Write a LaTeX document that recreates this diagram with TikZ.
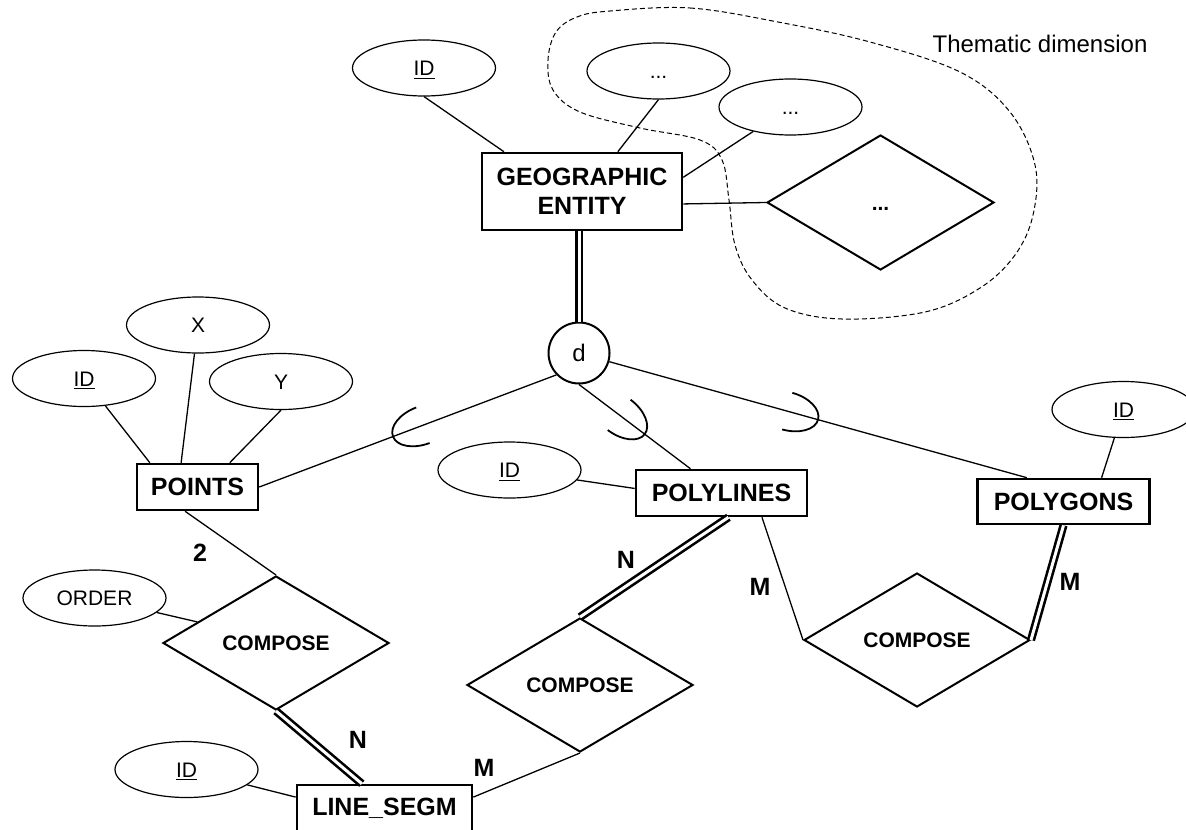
\documentclass[tikz,border=0pt]{standalone}
\usepackage{fontspec}
\setmainfont{Liberation Sans}
\usetikzlibrary{shapes.geometric}

\begin{document}
\begin{tikzpicture}[x=0.5pt,y=-0.5pt,
	entity/.style={draw,line width=1.3pt,inner sep=0pt,align=center,font=\bfseries\fontsize{12.5}{14.5}\selectfont},
	attrib/.style={draw,ellipse,line width=0.6pt,minimum width=71.5pt,minimum height=28pt,inner sep=0pt,text height=7.5pt,text depth=0pt,font=\fontsize{10.5}{12}\selectfont},
	relship/.style={draw,diamond,line width=1pt,minimum width=113pt,minimum height=67pt,inner sep=0pt,font=\bfseries\fontsize{10.5}{12}\selectfont},
	card/.style={font=\bfseries\fontsize{12.5}{14}\selectfont},
	dbl/.style={double,line width=1.3pt,double distance=1.5pt},
	link/.style={line width=0.65pt},
	subset/.pic={\draw[line width=0.9pt] (16pt,9.5pt) arc[start angle=90,end angle=270,x radius=16pt,y radius=9.5pt];}]
			\useasboundingbox (0,0) rectangle (1186,829);
			
			% thematic dimension
			
			\draw[dash pattern=on 2.5pt off 1.5pt,line width=0.5pt] plot[smooth cycle,tension=0.6] coordinates {
				(610,11) (690,8) (778,22) (870,42) (960,72) (1010,112) (1035,165) (1033,215) (1015,255) (980,288)
				(925,312) (842,319) (785,308) (752,280) (735,245) (729,200) (722,160) (700,140) (640,128) (580,112)
				(553,90) (548,60) (556,32) (577,17)};
			\node[font=\fontsize{12}{14}\selectfont] (theme) at (1040,44) {Thematic dimension};
			
			% geographic entity
			
			\node[entity,minimum width=100pt,minimum height=38.5pt] (GE) at (582,191.5) {GEOGRAPHIC\\ENTITY};
			\node[attrib] (IDge) at (424,68) {\underline{ID}};
			\node[attrib] (A1) at (658.5,71) {...};
			\node[attrib] (A2) at (790.5,107) {...};
			\node[relship,minimum width=113.5pt,minimum height=67.5pt,text height=7.5pt,text depth=0pt] (R0) at (880.5,202.5) {...};
			\draw[link] (IDge.south) -- (GE.153);
			\draw[link] (A1.south) -- (GE.48);
			\draw[link] (A2) -- (GE.8);
			\draw[link] (GE.-7) -- (R0.west);
			
			% d
			
			\node[circle,draw,line width=1pt,minimum size=30.5pt,inner sep=0pt,font=\fontsize{12}{14}\selectfont] (d) at (579,353) {d};
			\draw[dbl] (d |- GE.south) -- (d.north);
			
			% points
			
			\node[entity,minimum width=60.5pt,minimum height=23pt] (POINTS) at (197.5,487) {POINTS};
			\node[attrib] (IDp) at (84,378.5) {\underline{ID}};
			\node[attrib] (Xp) at (198,325) {X};
			\node[attrib] (Yp) at (281,381.5) {Y};
			\draw[link] (IDp) -- (POINTS.153);
			\draw[link] (Xp) -- (POINTS.124);
			\draw[link] (Yp.south) -- (POINTS.37);
			\draw[link] (POINTS.east) -- (d.224) pic[pos=0.45,sloped]{subset};
			
			% polylines
			
			\node[entity,minimum width=85.5pt,minimum height=23pt] (POLYLINES) at (721.5,493) {POLYLINES};
			\node[attrib] (IDl) at (509.5,470) {\underline{ID}};
			\draw[link] (IDl) -- (POLYLINES.177);
			\draw[link] (POLYLINES.142) -- (d.south) pic[pos=0.41,sloped,allow upside down]{subset};
			
			% polygons
			
			\node[entity,minimum width=86pt,minimum height=22.5pt] (POLYGONS) at (1063.5,501.5) {POLYGONS};
			\node[attrib] (IDg) at (1123.5,409.5) {\underline{ID}};
			\draw[link] (IDg) -- (POLYGONS.32);
			\draw[link] (POLYGONS.147) -- (d.-16) pic[pos=0.5,sloped,allow upside down]{subset};
			
			% compose
			
			\node[relship] (C1) at (276,643) {COMPOSE};
			\node[relship] (C2) at (580,685) {COMPOSE};
			\node[relship] (C3) at (917,640) {COMPOSE};
			\node[attrib] (ORDER) at (94.5,598) {ORDER};
			\draw[link] (ORDER) -- (C1.165);
			
			% line segments
			
			\node[entity,minimum width=87.5pt,minimum height=23pt] (LS) at (384.5,808) {LINE\_SEGM};
			\node[attrib] (IDs) at (186.5,769.5) {\underline{ID}};
			\draw[link] (IDs) -- (LS.173);
			
			\draw[link] (POINTS.-117) -- (C1.north);
			\draw[dbl] (C1.south) -- (LS.133);
			\draw[link] (LS.7) -- (C2.south);
			\draw[dbl] (POLYLINES.-74) -- (C2.north);
			\draw[link] (POLYLINES.-31) -- (C3.west);
			\draw[dbl] (POLYGONS.south) -- (C3.east);
			
			\node[card] (k2) at (200,553) {2};
			\node[card] (kN1) at (358,740) {N};
			\node[card] (kM1) at (484,768) {M};
			\node[card] (kN2) at (626,560) {N};
			\node[card] (kM2) at (760,587) {M};
			\node[card] (kM3) at (1070,582) {M};
		\end{tikzpicture}
\end{document}
